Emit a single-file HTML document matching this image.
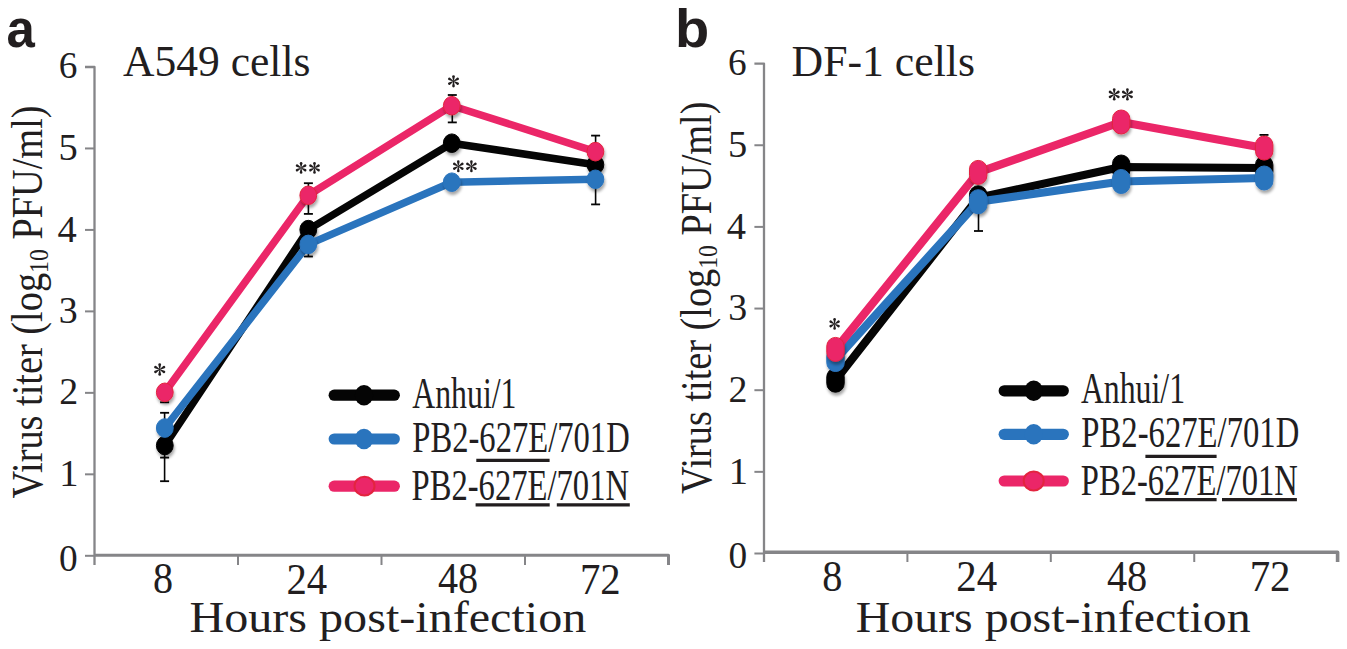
<!DOCTYPE html>
<html><head><meta charset="utf-8"><title>Virus titer</title>
<style>html,body{margin:0;padding:0;background:#fff;} svg{display:block;}</style></head>
<body>
<svg width="1347" height="649" viewBox="0 0 1347 649">
<defs>
<filter id="sh" x="-50%" y="-50%" width="200%" height="220%">
<feGaussianBlur in="SourceAlpha" stdDeviation="1.8"/>
<feOffset dx="0.5" dy="3" result="o"/>
<feComponentTransfer><feFuncA type="linear" slope="0.35"/></feComponentTransfer>
<feMerge><feMergeNode/><feMergeNode in="SourceGraphic"/></feMerge>
</filter>
<g id="ast"><path id="pet" d="M-0.45,-0.8 L-1.3,-4.65 A1.3,1.3 0 0 1 1.3,-4.65 L0.45,-0.8 Z"/>
<use href="#pet" transform="rotate(60)"/><use href="#pet" transform="rotate(120)"/><use href="#pet" transform="rotate(180)"/>
<use href="#pet" transform="rotate(240)"/><use href="#pet" transform="rotate(300)"/><circle r="0.9"/></g>
</defs>
<rect width="1347" height="649" fill="#fff"/>
<g>
<path d="M85,66.98 H94.5 V565" fill="none" stroke="#858588" stroke-width="2.3" stroke-linejoin="round"/>
<path d="M85,555.80 H94.5" stroke="#858588" stroke-width="2"/>
<path d="M85,474.33 H94.5" stroke="#858588" stroke-width="2"/>
<path d="M85,392.86 H94.5" stroke="#858588" stroke-width="2"/>
<path d="M85,311.39 H94.5" stroke="#858588" stroke-width="2"/>
<path d="M85,229.92 H94.5" stroke="#858588" stroke-width="2"/>
<path d="M85,148.45 H94.5" stroke="#858588" stroke-width="2"/>
<path d="M94.5,555.3 H668.5 V565" fill="none" stroke="#858588" stroke-width="3.0" stroke-linejoin="round"/>
<path d="M238,555.3 V565" stroke="#858588" stroke-width="2"/>
<path d="M381.5,555.3 V565" stroke="#858588" stroke-width="2"/>
<path d="M525,555.3 V565" stroke="#858588" stroke-width="2"/>
<path d="M754.4,63.60 H764 V562" fill="none" stroke="#858588" stroke-width="2.3" stroke-linejoin="round"/>
<path d="M754.4,553.50 H764" stroke="#858588" stroke-width="2"/>
<path d="M754.4,471.85 H764" stroke="#858588" stroke-width="2"/>
<path d="M754.4,390.20 H764" stroke="#858588" stroke-width="2"/>
<path d="M754.4,308.55 H764" stroke="#858588" stroke-width="2"/>
<path d="M754.4,226.90 H764" stroke="#858588" stroke-width="2"/>
<path d="M754.4,145.25 H764" stroke="#858588" stroke-width="2"/>
<path d="M764,552.3 H1337.6 V562" fill="none" stroke="#858588" stroke-width="3.6" stroke-linejoin="round"/>
<path d="M907.4,552.3 V562" stroke="#858588" stroke-width="2"/>
<path d="M1050.8,552.3 V562" stroke="#858588" stroke-width="2"/>
<path d="M1194.25,552.3 V562" stroke="#858588" stroke-width="2"/>
</g>
<g>
<path d="M164.6,402.3 V402.3" stroke="#050505" stroke-width="1.6"/>
<path d="M160.1,402.3 h9" stroke="#050505" stroke-width="1.8"/>
<path d="M164.6,412.8 V481.2" stroke="#050505" stroke-width="1.6"/>
<path d="M160.1,412.8 h9" stroke="#050505" stroke-width="1.8"/>
<path d="M160.1,481.2 h9" stroke="#050505" stroke-width="1.8"/>
<path d="M164.6,457.6 V457.6" stroke="#050505" stroke-width="1.6"/>
<path d="M160.1,457.6 h9" stroke="#050505" stroke-width="1.8"/>
<path d="M308.4,183.2 V213.9" stroke="#050505" stroke-width="1.6"/>
<path d="M303.9,183.2 h9" stroke="#050505" stroke-width="1.8"/>
<path d="M303.9,213.9 h9" stroke="#050505" stroke-width="1.8"/>
<path d="M308.4,244.4 V256.5" stroke="#050505" stroke-width="1.6"/>
<path d="M303.9,256.5 h9" stroke="#050505" stroke-width="1.8"/>
<path d="M452.3,95.0 V122.4" stroke="#050505" stroke-width="1.6"/>
<path d="M447.8,95.0 h9" stroke="#050505" stroke-width="1.8"/>
<path d="M447.8,122.4 h9" stroke="#050505" stroke-width="1.8"/>
<path d="M595.6,135.6 V150" stroke="#050505" stroke-width="1.6"/>
<path d="M591.1,135.6 h9" stroke="#050505" stroke-width="1.8"/>
<path d="M595.6,180 V204.4" stroke="#050505" stroke-width="1.6"/>
<path d="M591.1,204.4 h9" stroke="#050505" stroke-width="1.8"/>
<path d="M978.5,205 V231" stroke="#050505" stroke-width="1.6"/>
<path d="M974.0,231 h9" stroke="#050505" stroke-width="1.8"/>
<path d="M1264,134.9 V140" stroke="#050505" stroke-width="1.6"/>
<path d="M1259.5,134.9 h9" stroke="#050505" stroke-width="1.8"/>
</g>
<g>
<polyline points="164.8,445.5 308.3,229.6 451.8,143.2 595.4,164.7" fill="none" stroke="#050505" stroke-width="7.5" stroke-linejoin="round" stroke-linecap="round"/>
<ellipse cx="164.8" cy="445.5" rx="8.4" ry="9.3" fill="#050505" stroke="#050505" stroke-width="1" filter="url(#sh)"/>
<ellipse cx="308.3" cy="229.6" rx="8.4" ry="9.3" fill="#050505" stroke="#050505" stroke-width="1" filter="url(#sh)"/>
<ellipse cx="451.8" cy="143.2" rx="8.4" ry="9.3" fill="#050505" stroke="#050505" stroke-width="1" filter="url(#sh)"/>
<ellipse cx="595.4" cy="164.7" rx="8.4" ry="9.3" fill="#050505" stroke="#050505" stroke-width="1" filter="url(#sh)"/>
<polyline points="164.8,428.0 308.3,244.4 451.8,182.2 595.4,179.3" fill="none" stroke="#2a74bd" stroke-width="7.5" stroke-linejoin="round" stroke-linecap="round"/>
<ellipse cx="164.8" cy="428.0" rx="8.4" ry="9.3" fill="#2a74bd" stroke="#2a74bd" stroke-width="1" filter="url(#sh)"/>
<ellipse cx="308.3" cy="244.4" rx="8.4" ry="9.3" fill="#2a74bd" stroke="#2a74bd" stroke-width="1" filter="url(#sh)"/>
<ellipse cx="451.8" cy="182.2" rx="8.4" ry="9.3" fill="#2a74bd" stroke="#2a74bd" stroke-width="1" filter="url(#sh)"/>
<ellipse cx="595.4" cy="179.3" rx="8.4" ry="9.3" fill="#2a74bd" stroke="#2a74bd" stroke-width="1" filter="url(#sh)"/>
<polyline points="164.8,392.3 308.3,195.3 451.8,105.7 595.4,151.6" fill="none" stroke="#eb2668" stroke-width="7.5" stroke-linejoin="round" stroke-linecap="round"/>
<ellipse cx="164.8" cy="392.3" rx="8.4" ry="9.3" fill="#eb2668" stroke="#e3243f" stroke-width="1" filter="url(#sh)"/>
<ellipse cx="308.3" cy="195.3" rx="8.4" ry="9.3" fill="#eb2668" stroke="#e3243f" stroke-width="1" filter="url(#sh)"/>
<ellipse cx="451.8" cy="105.7" rx="8.4" ry="9.3" fill="#eb2668" stroke="#e3243f" stroke-width="1" filter="url(#sh)"/>
<ellipse cx="595.4" cy="151.6" rx="8.4" ry="9.3" fill="#eb2668" stroke="#e3243f" stroke-width="1" filter="url(#sh)"/>
<polyline points="835.5,380.2 978.2,197.8 1121.2,167.0 1264.2,168.0" fill="none" stroke="#050505" stroke-width="8.2" stroke-linejoin="round" stroke-linecap="round"/>
<rect x="826.8" y="368.2" width="17.4" height="24" rx="8.7" ry="8.7" fill="#050505" stroke="#050505" stroke-width="1" filter="url(#sh)"/>
<rect x="969.5" y="185.8" width="17.4" height="24" rx="8.7" ry="8.7" fill="#050505" stroke="#050505" stroke-width="1" filter="url(#sh)"/>
<rect x="1112.5" y="155.0" width="17.4" height="24" rx="8.7" ry="8.7" fill="#050505" stroke="#050505" stroke-width="1" filter="url(#sh)"/>
<rect x="1255.5" y="156.0" width="17.4" height="24" rx="8.7" ry="8.7" fill="#050505" stroke="#050505" stroke-width="1" filter="url(#sh)"/>
<polyline points="835.5,359.5 978.2,201.7 1121.2,181.5 1264.2,178.0" fill="none" stroke="#2a74bd" stroke-width="8.2" stroke-linejoin="round" stroke-linecap="round"/>
<rect x="826.8" y="347.5" width="17.4" height="24" rx="8.7" ry="8.7" fill="#2a74bd" stroke="#2a74bd" stroke-width="1" filter="url(#sh)"/>
<rect x="969.5" y="189.7" width="17.4" height="24" rx="8.7" ry="8.7" fill="#2a74bd" stroke="#2a74bd" stroke-width="1" filter="url(#sh)"/>
<rect x="1112.5" y="169.5" width="17.4" height="24" rx="8.7" ry="8.7" fill="#2a74bd" stroke="#2a74bd" stroke-width="1" filter="url(#sh)"/>
<rect x="1255.5" y="166.0" width="17.4" height="24" rx="8.7" ry="8.7" fill="#2a74bd" stroke="#2a74bd" stroke-width="1" filter="url(#sh)"/>
<polyline points="835.5,349.4 978.2,172.4 1121.2,122.0 1264.2,148.0" fill="none" stroke="#eb2668" stroke-width="8.2" stroke-linejoin="round" stroke-linecap="round"/>
<rect x="826.8" y="337.4" width="17.4" height="24" rx="8.7" ry="8.7" fill="#eb2668" stroke="#e3243f" stroke-width="1" filter="url(#sh)"/>
<rect x="969.5" y="160.4" width="17.4" height="24" rx="8.7" ry="8.7" fill="#eb2668" stroke="#e3243f" stroke-width="1" filter="url(#sh)"/>
<rect x="1112.5" y="110.0" width="17.4" height="24" rx="8.7" ry="8.7" fill="#eb2668" stroke="#e3243f" stroke-width="1" filter="url(#sh)"/>
<rect x="1255.5" y="136.0" width="17.4" height="24" rx="8.7" ry="8.7" fill="#eb2668" stroke="#e3243f" stroke-width="1" filter="url(#sh)"/>
</g>
<g>
<path d="M334.20000000000005,395.2 H394.29999999999995" stroke="#050505" stroke-width="11.2" stroke-linecap="round"/>
<ellipse cx="364" cy="395.2" rx="9.2" ry="10.3" fill="#050505"/>
<path d="M334.20000000000005,439.0 H394.29999999999995" stroke="#2a74bd" stroke-width="11.2" stroke-linecap="round"/>
<ellipse cx="364" cy="439.0" rx="9.2" ry="10.3" fill="#2a74bd"/>
<path d="M334.20000000000005,486.2 H394.29999999999995" stroke="#eb2668" stroke-width="11.2" stroke-linecap="round"/>
<ellipse cx="364.5" cy="486.2" rx="10" ry="9.4" fill="#eb2668" stroke="#e3243f" stroke-width="2"/>
<path d="M1004.2,390.8 H1063.3000000000002" stroke="#050505" stroke-width="11.2" stroke-linecap="round"/>
<ellipse cx="1033.7" cy="390.8" rx="9.2" ry="10.3" fill="#050505"/>
<path d="M1004.2,434.3 H1063.3000000000002" stroke="#2a74bd" stroke-width="11.2" stroke-linecap="round"/>
<ellipse cx="1033.7" cy="434.3" rx="9.2" ry="10.3" fill="#2a74bd"/>
<path d="M1004.2,481.0 H1063.3000000000002" stroke="#eb2668" stroke-width="11.2" stroke-linecap="round"/>
<ellipse cx="1033.7" cy="481.0" rx="10" ry="9.4" fill="#eb2668" stroke="#e3243f" stroke-width="2"/>
</g>
<g fill="#221e1f">
<text transform="matrix(0.5094,0.0000,0.0000,0.5455,6.4717,47.4545)" font-family="Liberation Sans" font-size="100" font-weight="bold">a</text>
<text transform="matrix(0.5600,0.0000,0.0000,0.5405,675.0800,47.4595)" font-family="Liberation Sans" font-size="100" font-weight="bold">b</text>
<text transform="matrix(0.0000,-0.3833,0.4473,0.0000,42.3000,498.3833)" font-family="Liberation Serif" font-size="100">Virus titer (log<tspan font-size="62" dy="13">10</tspan><tspan dy="-13"> PFU/ml)</tspan></text>
<text transform="matrix(0.0000,-0.3827,0.4489,0.0000,711.2000,493.8827)" font-family="Liberation Serif" font-size="100">Virus titer (log<tspan font-size="62" dy="13">10</tspan><tspan dy="-13"> PFU/ml)</tspan></text>
<text transform="matrix(0.3735,0.0000,0.0000,0.3735,59.1176,571.3529)" font-family="Liberation Serif" font-size="100">0</text>
<text transform="matrix(0.3848,0.0000,0.0000,0.3848,59.3667,486.3300)" font-family="Liberation Serif" font-size="100">1</text>
<text transform="matrix(0.3791,0.0000,0.0000,0.3791,59.2403,404.4809)" font-family="Liberation Serif" font-size="100">2</text>
<text transform="matrix(0.3791,0.0000,0.0000,0.3791,58.8612,323.0109)" font-family="Liberation Serif" font-size="100">3</text>
<text transform="matrix(0.3848,0.0000,0.0000,0.3848,57.4424,241.5352)" font-family="Liberation Serif" font-size="100">4</text>
<text transform="matrix(0.3848,0.0000,0.0000,0.3848,58.5970,160.0652)" font-family="Liberation Serif" font-size="100">5</text>
<text transform="matrix(0.3735,0.0000,0.0000,0.3735,58.7441,77.9329)" font-family="Liberation Serif" font-size="100">6</text>
<text transform="matrix(0.3735,0.0000,0.0000,0.3735,728.4176,568.2529)" font-family="Liberation Serif" font-size="100">0</text>
<text transform="matrix(0.3848,0.0000,0.0000,0.3848,728.6667,483.8500)" font-family="Liberation Serif" font-size="100">1</text>
<text transform="matrix(0.3791,0.0000,0.0000,0.3791,728.5403,401.8209)" font-family="Liberation Serif" font-size="100">2</text>
<text transform="matrix(0.3791,0.0000,0.0000,0.3791,728.1612,320.1709)" font-family="Liberation Serif" font-size="100">3</text>
<text transform="matrix(0.3848,0.0000,0.0000,0.3848,726.7424,238.5152)" font-family="Liberation Serif" font-size="100">4</text>
<text transform="matrix(0.3848,0.0000,0.0000,0.3848,727.8970,156.8652)" font-family="Liberation Serif" font-size="100">5</text>
<text transform="matrix(0.3735,0.0000,0.0000,0.3735,728.0441,74.8529)" font-family="Liberation Serif" font-size="100">6</text>
<text transform="matrix(0.4018,0.0000,0.0000,0.4368,152.9544,593.2265)" font-family="Liberation Serif" font-size="100">8</text>
<text transform="matrix(0.4078,0.0000,0.0000,0.4433,286.3972,593.6567)" font-family="Liberation Serif" font-size="100">24</text>
<text transform="matrix(0.4018,0.0000,0.0000,0.4368,437.9106,593.2265)" font-family="Liberation Serif" font-size="100">48</text>
<text transform="matrix(0.4078,0.0000,0.0000,0.4433,579.9050,593.6567)" font-family="Liberation Serif" font-size="100">72</text>
<text transform="matrix(0.4032,0.0000,0.0000,0.4382,822.2206,590.5235)" font-family="Liberation Serif" font-size="100">8</text>
<text transform="matrix(0.4092,0.0000,0.0000,0.4448,956.3265,590.9552)" font-family="Liberation Serif" font-size="100">24</text>
<text transform="matrix(0.4032,0.0000,0.0000,0.4382,1106.9444,590.5235)" font-family="Liberation Serif" font-size="100">48</text>
<text transform="matrix(0.4092,0.0000,0.0000,0.4448,1249.6357,590.9552)" font-family="Liberation Serif" font-size="100">72</text>
<text transform="matrix(0.4357,0.0000,0.0000,0.4473,122.9643,75.8000)" font-family="Liberation Serif" font-size="100">A549 cells</text>
<text transform="matrix(0.4375,0.0000,0.0000,0.4427,791.5874,75.8000)" font-family="Liberation Serif" font-size="100">DF-1 cells</text>
<text transform="matrix(0.4811,0.0000,0.0000,0.4504,189.4567,631.7000)" font-family="Liberation Serif" font-size="100">Hours post-infection</text>
<text transform="matrix(0.4791,0.0000,0.0000,0.4504,855.6626,631.5000)" font-family="Liberation Serif" font-size="100">Hours post-infection</text>
<text transform="matrix(0.3178,0.0000,0.0000,0.4366,412.2822,407.7000)" font-family="Liberation Serif" font-size="100">Anhui/1</text>
<text transform="matrix(0.3262,0.0000,0.0000,0.4366,412.3214,451.9000)" font-family="Liberation Serif" font-size="100">PB2-627E/701D</text>
<text transform="matrix(0.3264,0.0000,0.0000,0.4366,411.5207,499.5000)" font-family="Liberation Serif" font-size="100">PB2-627E/701N</text>
<text transform="matrix(0.3178,0.0000,0.0000,0.4366,1080.8822,403.3000)" font-family="Liberation Serif" font-size="100">Anhui/1</text>
<text transform="matrix(0.3271,0.0000,0.0000,0.4366,1081.3186,447.0000)" font-family="Liberation Serif" font-size="100">PB2-627E/701D</text>
<text transform="matrix(0.3257,0.0000,0.0000,0.4366,1080.8230,495.2000)" font-family="Liberation Serif" font-size="100">PB2-627E/701N</text>
<path d="M476.3,460.4 H549.6" stroke="#221e1f" stroke-width="3.2"/>
<path d="M475.6,504.8 H549.7" stroke="#221e1f" stroke-width="3.2"/>
<path d="M556.8,504.8 H629.8" stroke="#221e1f" stroke-width="3.2"/>
<path d="M1145.4,456.4 H1216.6" stroke="#221e1f" stroke-width="3.2"/>
<path d="M1145.4,499.7 H1216.6" stroke="#221e1f" stroke-width="3.2"/>
<path d="M1222.0,499.7 H1296.9" stroke="#221e1f" stroke-width="3.2"/>
<use href="#ast" transform="translate(159.7,369.5) scale(1.05)"/>
<use href="#ast" transform="translate(301.1,167.9) scale(1.0)"/>
<use href="#ast" transform="translate(314.5,167.9) scale(1.0)"/>
<use href="#ast" transform="translate(453.5,81.3) scale(1.03)"/>
<use href="#ast" transform="translate(458.3,166.3) scale(1.0)"/>
<use href="#ast" transform="translate(471.4,166.3) scale(1.0)"/>
<use href="#ast" transform="translate(834.6,323.9) scale(0.98)"/>
<use href="#ast" transform="translate(1114.2,94.4) scale(1.03)"/>
<use href="#ast" transform="translate(1127.4,94.4) scale(1.03)"/>
</g>
</svg>
</body></html>
